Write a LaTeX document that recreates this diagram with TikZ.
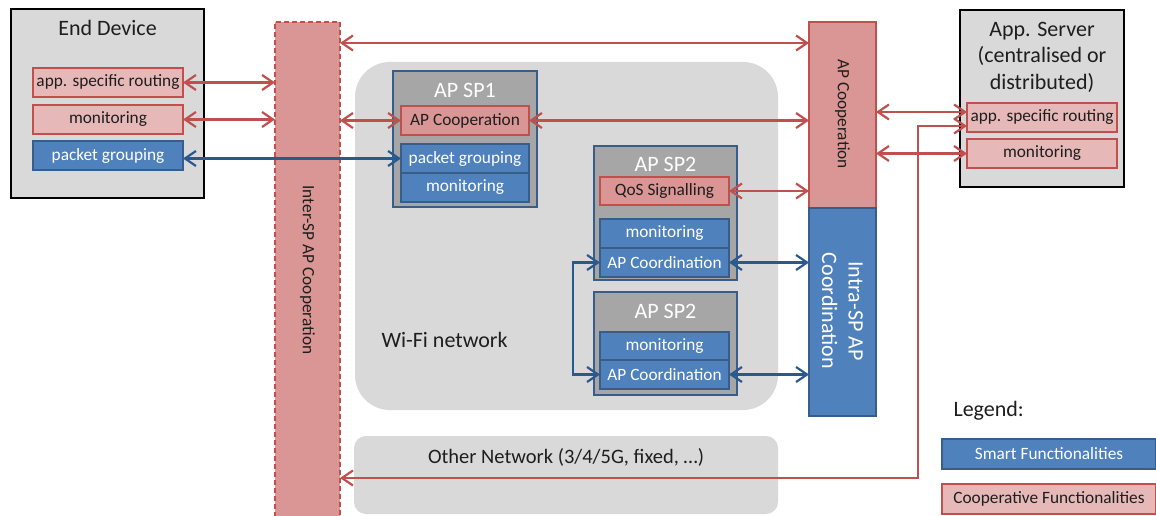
\documentclass[tikz,border=0pt]{standalone}
\usepackage{fontspec}
\setmainfont{Carlito}
\usetikzlibrary{arrows.meta}

\definecolor{panelgray}{HTML}{D9D9D9}
\definecolor{apgray}{HTML}{A6A6A6}
\definecolor{smartblue}{HTML}{4F81BD}
\definecolor{smartedge}{HTML}{385D8A}
\definecolor{coopedge}{HTML}{C0504D}
\definecolor{coopdark}{HTML}{D99694}
\definecolor{cooplight}{HTML}{E6B9B8}
\definecolor{linkblue}{HTML}{285A90}
\definecolor{inktext}{HTML}{1E1E1E}

\newcommand\txtsmall{\fontsize{17.3}{19}\selectfont}
\newcommand\txtlarge{\fontsize{22}{26.5}\selectfont}
\newcommand\txtmid{\fontsize{20.5}{23}\selectfont}

\tikzset{
  blk/.style={rectangle, inner sep=0pt, outer sep=0pt},
  panel/.style={blk, draw=black, line width=2.4pt, fill=panelgray},
  region/.style={blk, fill=panelgray},
  apbox/.style={blk, draw=smartedge, line width=2pt, fill=apgray},
  coopfn/.style={blk, draw=coopedge, line width=2.2pt, fill=coopdark, text=inktext, font=\txtsmall},
  cooplt/.style={coopfn, fill=cooplight},
  smartfn/.style={blk, draw=smartedge, line width=2.2pt, fill=smartblue, text=white, font=\txtsmall},
  title/.style={font=\txtlarge, text=inktext, align=center},
  wtitle/.style={font=\txtlarge, text=white},
  tip/.style={>={Straight Barb[length=11pt,width=15pt,line width=2.2pt]}},
  redlink/.style={tip, <->, draw=coopedge, line width=2.4pt},
  bluelink/.style={tip, <->, draw=linkblue, line width=2.4pt},
}

\begin{document}
\begin{tikzpicture}[x=1pt,y=-1pt]
\clip (0,0) rectangle (1156,516);
\fill[white] (0,0) rectangle (1156,516);

% network areas
\node[region, rounded corners=35pt, minimum width=423pt, minimum height=348pt] (wifi) at (566.5,236) {};
\node[font=\txtlarge, text=inktext, anchor=west] (wifilbl) at (378,340) {Wi-Fi network};
\node[region, rounded corners=12pt, minimum width=424pt, minimum height=78pt] (other) at (566,475) {};
\node[font=\txtmid, text=inktext] (otherlbl) at (566,457) {Other Network (3/4/5G, fixed, \dots)};

% end device
\node[panel, minimum width=193pt, minimum height=189pt] (ed) at (107.5,103.5) {};
\node[title] (edt) at (107.5,28) {End Device};
\node[cooplt, minimum width=150pt, minimum height=29pt] (edr) at (108,82.5) {app. specific routing};
\node[cooplt, minimum width=150pt, minimum height=29pt] (edm) at (108,119.5) {monitoring};
\node[smartfn, minimum width=150pt, minimum height=29pt] (edp) at (108,155.5) {packet grouping};

% inter-SP cooperation column
\node[blk, draw=coopedge, dashed, dash pattern=on 5pt off 3pt, line width=2.2pt, fill=coopdark,
      minimum width=65pt, minimum height=508pt] (isp) at (307.5,276) {};
\node[rotate=-90, font=\txtsmall, text=inktext] (isplbl) at (307.5,270) {Inter-SP AP Cooperation};

% AP SP1
\node[apbox, minimum width=144pt, minimum height=136pt] (sp1) at (465,139) {};
\node[wtitle] (sp1t) at (465,90) {AP SP1};
\node[coopfn, minimum width=128pt, minimum height=29pt] (sp1c) at (465,120.5) {AP Cooperation};
\node[smartfn, minimum width=128pt, minimum height=29pt] (sp1p) at (465,158.5) {packet grouping};
\node[smartfn, minimum width=128pt, minimum height=29pt] (sp1m) at (465,187.5) {monitoring};

% AP SP2 (upper)
\node[apbox, minimum width=143pt, minimum height=134pt] (sp2a) at (665.5,213) {};
\node[wtitle] (sp2at) at (665.5,164) {AP SP2};
\node[coopfn, minimum width=129pt, minimum height=28pt] (qos) at (664.5,191) {QoS Signalling};
\node[smartfn, minimum width=129pt, minimum height=29pt] (mon1) at (664.5,233.5) {monitoring};
\node[smartfn, minimum width=129pt, minimum height=29pt] (coord1) at (664.5,262.5) {AP Coordination};

% AP SP2 (lower)
\node[apbox, minimum width=143pt, minimum height=103pt] (sp2b) at (665.5,343.5) {};
\node[wtitle] (sp2bt) at (665.5,311) {AP SP2};
\node[smartfn, minimum width=129pt, minimum height=28pt] (mon2) at (664.5,346) {monitoring};
\node[smartfn, minimum width=129pt, minimum height=29pt] (coord2) at (664.5,374.5) {AP Coordination};

% right-hand columns
\node[blk, draw=coopedge, line width=2.2pt, fill=coopdark, minimum width=67pt, minimum height=186pt] (apc) at (842.5,115) {};
\node[rotate=-90, font=\txtsmall, text=inktext] (apclbl) at (842.5,114) {AP Cooperation};
\node[blk, draw=smartedge, line width=2.2pt, fill=smartblue, minimum width=67pt, minimum height=208pt] (intra) at (842.5,312) {};
\node[rotate=-90, font=\txtlarge, text=white, align=center] (intralbl) at (842.5,311) {Intra-SP AP\\Coordination};

% application server
\node[panel, minimum width=164pt, minimum height=177pt] (srv) at (1042,98.5) {};
\node[title] (srvt) at (1042,57) {App. Server\\(centralised or\\distributed)};
\node[cooplt, minimum width=150pt, minimum height=29pt] (asr) at (1042,117.5) {app. specific routing};
\node[cooplt, minimum width=150pt, minimum height=29pt] (asm) at (1042,153.5) {monitoring};

% legend
\node[font=\txtlarge, text=inktext, anchor=west] (leg) at (950,411) {Legend:};
\node[smartfn, minimum width=214pt, minimum height=30pt] (lsmart) at (1049,454) {Smart Functionalities};
\node[cooplt, minimum width=214pt, minimum height=30pt] (lcoop) at (1049,499) {Cooperative Functionalities};

% connectors
\coordinate (topy) at (0,43);
\coordinate (bend) at (918,478);
\draw[redlink] (isp.east |- topy) -- (apc.west |- topy);
\draw[redlink] (edr.east) -- (isp.west |- edr.east);
\draw[redlink] (edm.east) -- (isp.west |- edm.east);
\draw[redlink] (isp.east |- sp1c.west) -- (sp1c.west);
\draw[redlink] (sp1c.east) -- (apc.west |- sp1c.east);
\draw[bluelink] (edp.east |- sp1p.west) -- (sp1p.west);
\draw[redlink] (qos.east) -- (apc.west |- qos.east);
\draw[bluelink] (coord1.east) -- (intra.west |- coord1.east);
\draw[bluelink] (coord2.east) -- (intra.west |- coord2.east);
\draw[bluelink] (coord1.west) -- ++(-27,0) |- (coord2.west);
\draw[redlink] (apc.east |- 0,112) -- ([yshift=5.5pt]asr.west);
\draw[redlink] (apc.east |- asm.west) -- (asm.west);
\draw[redlink] ([yshift=-8.5pt]asr.west) -| (bend) -- (isp.east |- bend);
\end{tikzpicture}
\end{document}
